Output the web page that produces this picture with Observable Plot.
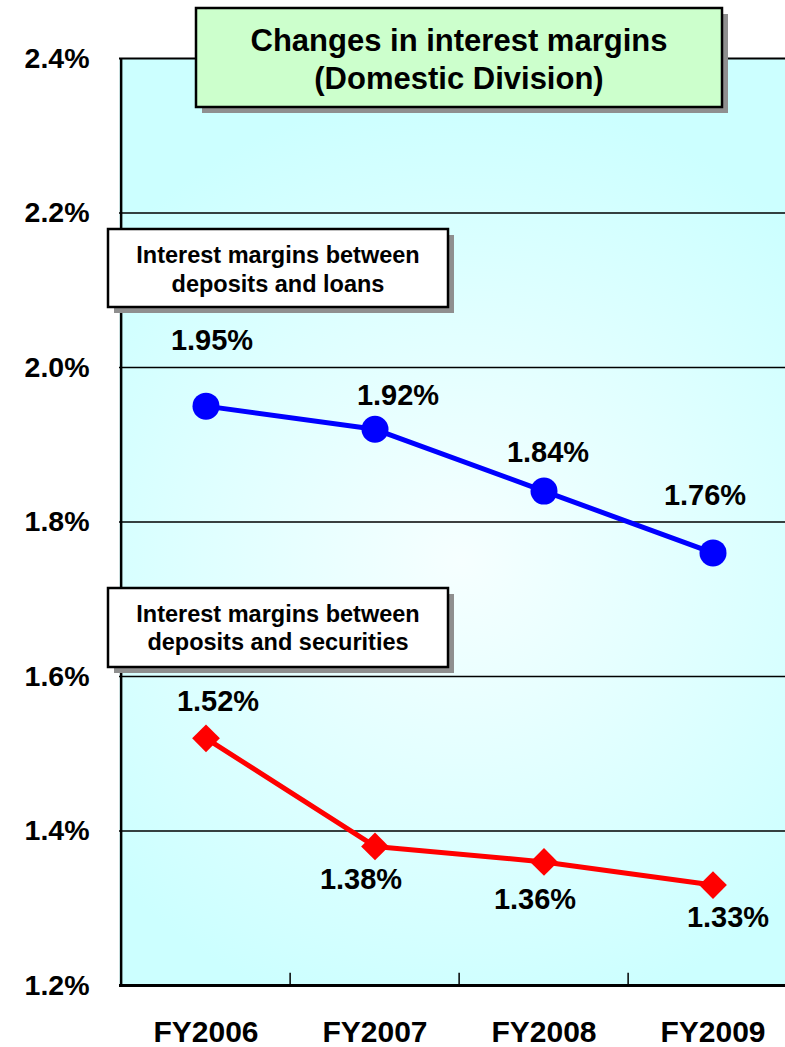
<!DOCTYPE html>
<html>
<head>
<meta charset="utf-8">
<script src="https://cdn.jsdelivr.net/npm/d3@7"></script>
<script src="https://cdn.jsdelivr.net/npm/@observablehq/plot@0.6"></script>
<style>
  body { margin: 0; background: #fff; }
  #chart svg { display: block; overflow: hidden; }
</style>
</head>
<body>
<div id="chart"></div>
<script>
// Interest margins of the Domestic Division, FY2006–FY2009 (%)
const fiscalYears = ["FY2006", "FY2007", "FY2008", "FY2009"];
const loanMargins = [1.95, 1.92, 1.84, 1.76];
const securitiesMargins = [1.52, 1.38, 1.36, 1.33];
const yTicks = [1.2, 1.4, 1.6, 1.8, 2.0, 2.2, 2.4];
const titleLines = ["Changes in interest margins", "(Domestic Division)"];
const loanLegend = ["Interest margins between", "deposits and loans"];
const securitiesLegend = ["Interest margins between", "deposits and securities"];

// Layout
const W = 785, H = 1047;
const M = {left: 119, right: -13, top: 58, bottom: 62};
const bandWidth = (W - M.right - M.left) / fiscalYears.length;
const FONT = "'Liberation Sans', Arial, Helvetica, sans-serif";
const loanLabelShift = [[6, -65], [23, -34], [4, -38], [-8, -57]];
const securitiesLabelShift = [[12, -37], [-14, 33], [-9, 38], [15, 33]];

const loanRows = fiscalYears.map((year, i) => ({year, value: loanMargins[i]}));
const securitiesRows = fiscalYears.map((year, i) => ({year, value: securitiesMargins[i]}));
const pct = v => v.toFixed(2) + "%";

const valueLabels = (rows, shifts) => rows.map((d, i) =>
  Plot.text([d], {
    x: "year", y: "value", text: d => pct(d.value),
    dx: shifts[i][0], dy: shifts[i][1],
    fontSize: 29, fontWeight: "bold", fill: "#000"
  })
);

const chart = Plot.plot({
  width: W, height: H,
  marginLeft: M.left, marginRight: M.right, marginTop: M.top, marginBottom: M.bottom,
  style: {fontFamily: FONT, background: "#fff", overflow: "hidden"},
  x: {type: "band", domain: fiscalYears, padding: 0},
  y: {domain: [yTicks[0], yTicks[yTicks.length - 1]]},
  marks: [
    Plot.frame({fill: "url(#panelGlow)", stroke: "none"}),
    Plot.ruleY(yTicks.slice(1, -1), {stroke: "#000", strokeWidth: 1.5}),
    Plot.ruleY([yTicks[yTicks.length - 1]], {stroke: "#000", strokeWidth: 2}),
    Plot.ruleX([fiscalYears[0]], {dx: -bandWidth / 2, stroke: "#000", strokeWidth: 2.5}),
    Plot.ruleY([yTicks[0]], {stroke: "#000", strokeWidth: 3}),
    Plot.ruleX(fiscalYears.slice(1), {
      x: d => d, dx: -bandWidth / 2,
      y1: yTicks[0], y2: yTicks[0] + 0.016, stroke: "#000", strokeWidth: 1.5
    }),
    Plot.axisY(yTicks, {
      tickSize: 0, tickPadding: 30, tickFormat: d => d.toFixed(1) + "%",
      fontSize: 28.5, fontWeight: "bold", fill: "#000", label: null
    }),
    Plot.axisX({
      tickSize: 0, tickPadding: 35, fontSize: 30, fontWeight: "bold",
      fill: "#000", label: null
    }),
    Plot.line(loanRows, {x: "year", y: "value", stroke: "#0000ff", strokeWidth: 5}),
    Plot.dot(loanRows, {x: "year", y: "value", r: 13.5, fill: "#0000ff", stroke: "none"}),
    Plot.line(securitiesRows, {x: "year", y: "value", stroke: "#ff0000", strokeWidth: 5}),
    Plot.dot(securitiesRows, {x: "year", y: "value", symbol: "diamond2", r: 12.5, fill: "#ff0000", stroke: "none"}),
    ...valueLabels(loanRows, loanLabelShift),
    ...valueLabels(securitiesRows, securitiesLabelShift)
  ]
});

document.getElementById("chart").appendChild(chart);

// Soft glow behind the plotting panel
const svg = d3.select(chart);
const defs = svg.insert("defs", ":first-child");
const glow = defs.append("radialGradient")
  .attr("id", "panelGlow").attr("gradientUnits", "userSpaceOnUse")
  .attr("cx", 460).attr("cy", 560).attr("r", 470);
glow.append("stop").attr("offset", 0).attr("stop-color", "#f6ffff");
glow.append("stop").attr("offset", 1).attr("stop-color", "#ccffff");

// Boxed title and series callouts with drop shadows
function callout({x, y, w, h, fill, lines, fontSize, baselines}) {
  const g = svg.append("g");
  g.append("rect").attr("x", x + 6).attr("y", y + 6).attr("width", w).attr("height", h)
    .attr("fill", "#8f8f8f");
  g.append("rect").attr("x", x).attr("y", y).attr("width", w).attr("height", h)
    .attr("fill", fill).attr("stroke", "#000").attr("stroke-width", 2.5);
  lines.forEach((t, i) => {
    g.append("text").attr("x", x + w / 2).attr("y", baselines[i])
      .attr("text-anchor", "middle").attr("font-family", FONT)
      .attr("font-weight", "bold").attr("font-size", fontSize).attr("fill", "#000")
      .text(t);
  });
}

callout({x: 196, y: 8, w: 526, h: 99, fill: "#ccffcc", lines: titleLines, fontSize: 31, baselines: [51, 89]});
callout({x: 108, y: 229, w: 340, h: 78, fill: "#ffffff", lines: loanLegend, fontSize: 23.5, baselines: [263, 292]});
callout({x: 108, y: 588, w: 340, h: 79, fill: "#ffffff", lines: securitiesLegend, fontSize: 23.5, baselines: [622, 650]});
</script>
</body>
</html>
